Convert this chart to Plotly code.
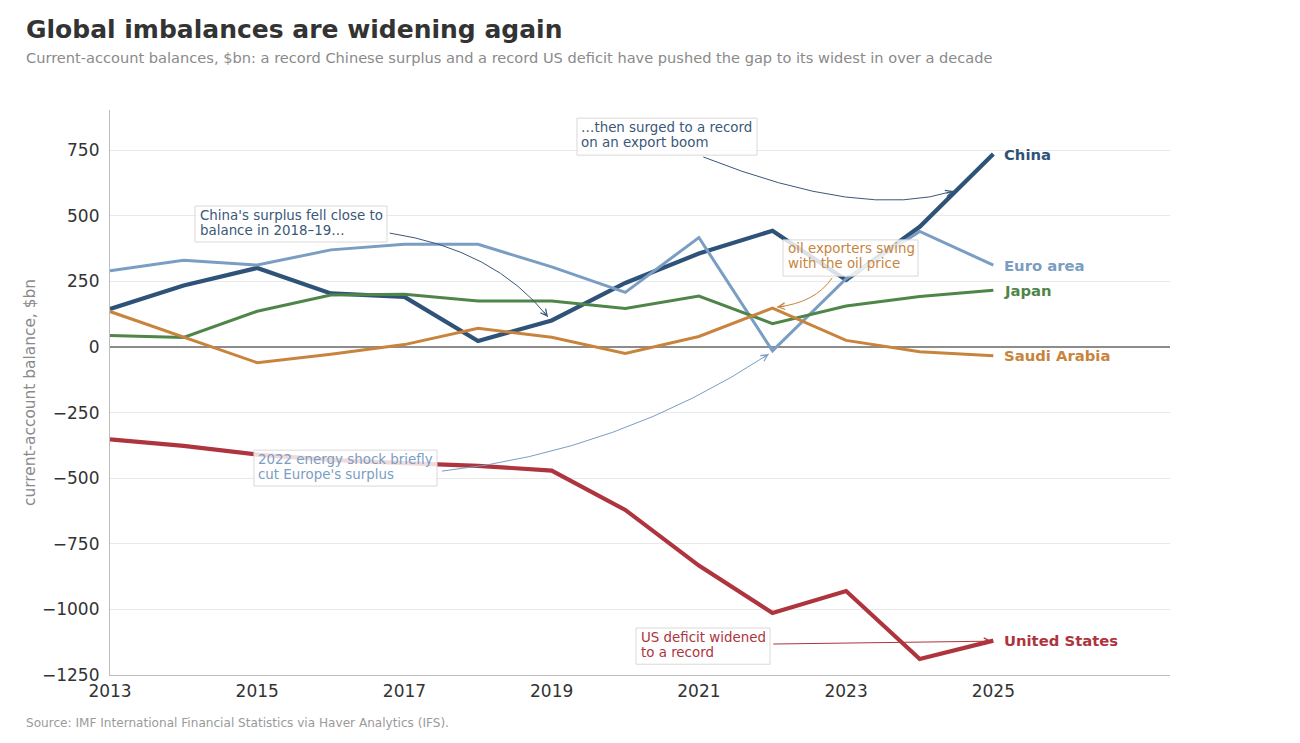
import plotly.graph_objects as go

# ---------------- data ----------------
years = list(range(2013, 2026))
china = [145, 234, 301, 204, 191, 23, 101, 244, 356, 443, 255, 458, 735]
euro_area = [290, 330, 312, 370, 391, 391, 305, 208, 417, -15, 260, 440, 312]
japan = [44, 36, 136, 198, 201, 175, 175, 147, 194, 89, 156, 192, 216]
saudi_arabia = [135, 37, -60, -28, 9, 71, 37, -25, 40, 148, 25, -18, -33]
united_states = [-352, -377, -410, -430, -443, -453, -471, -621, -833, -1014, -930, -1189, -1119]

series_names = ["China", "Euro area", "Japan", "Saudi Arabia", "United States"]
series_values = [china, euro_area, japan, saudi_arabia, united_states]
series_colors = ["#2f5278", "#7a9dc3", "#4f8548", "#c8843c", "#ae343e"]
series_widths = [4.2, 3, 3, 3, 4.2]

x_ticks = [2013, 2015, 2017, 2019, 2021, 2023, 2025]
y_ticks = [-1250, -1000, -750, -500, -250, 0, 250, 500, 750]

title = "Global imbalances are widening again"
subtitle = ("Current-account balances, $bn: a record Chinese surplus and a record US deficit "
            "have pushed the gap to its widest in over a decade")
source = "Source: IMF International Financial Statistics via Haver Analytics (IFS)."
y_title = "current-account balance, $bn"

# callouts: text lines, colour, box (x0, x1, ytop, ybottom), curve start, control, end
callouts = [
    dict(lines=["China's surplus fell close to", "balance in 2018–19…"], color="#3a5878",
         box=(2014.155, 2016.763, 537, 400), p0=(2016.80, 434), c=(2018.22, 373), p1=(2018.95, 114)),
    dict(lines=["…then surged to a record", "on an export boom"], color="#3a5878",
         box=(2019.344, 2021.790, 872, 731), p0=(2021.06, 724), c=(2023.22, 484), p1=(2024.46, 594)),
    dict(lines=["oil exporters swing", "with the oil price"], color="#c8843c",
         box=(2022.143, 2023.977, 408, 270), p0=(2022.81, 263), c=(2022.58, 168), p1=(2022.06, 152)),
    dict(lines=["2022 energy shock briefly", "cut Europe's surplus"], color="#7a9dc3",
         box=(2014.956, 2017.442, -393, -530), p0=(2017.51, -473), c=(2019.93, -400), p1=(2021.95, -27)),
    dict(lines=["US deficit widened", "to a record"], color="#ae343e",
         box=(2020.146, 2021.966, -1071, -1209), p0=(2022.01, -1132), c=None, p1=(2024.98, -1121)),
]

FONT = "DejaVu Sans"

fig = go.Figure()
for name, vals, col, w in zip(series_names, series_values, series_colors, series_widths):
    fig.add_trace(go.Scatter(x=years, y=vals, mode="lines", name=name,
                             line=dict(color=col, width=w), showlegend=False,
                             hoverinfo="skip"))

# end labels
for name, vals, col in zip(series_names, series_values, series_colors):
    fig.add_annotation(x=years[-1], y=vals[-1], text=f"<b>{name}</b>", showarrow=False,
                       xanchor="left", yanchor="middle", xshift=9,
                       font=dict(family=FONT, size=14.8, color=col))

# page offset (browser body margin) compensation
OFF = 8
W, H = 1300, 743
L, T = 110 - OFF, 110 - OFF
R, B = W - (1170 - OFF), H - (675 - OFF)
XR = [2013, 2027.4]
YR = [-1250, 903]
pw, ph = W - L - R, H - T - B

def to_px(x, y):
    return ((x - XR[0]) / (XR[1] - XR[0]) * pw, -(y - YR[0]) / (YR[1] - YR[0]) * ph)

def paper_x(px):
    return (px - OFF - L) / pw

def paper_y(py):
    return (H - B - (py - OFF)) / ph

for c in callouts:
    bx0, bx1, byt, byb = c["box"]
    fig.add_shape(type="rect", xref="x", yref="y", x0=bx0, x1=bx1, y0=byb, y1=byt,
                  fillcolor="rgba(255,255,255,0.82)", line=dict(color="#d9d9d9", width=1),
                  layer="above")
    for i, ln in enumerate(c["lines"]):
        fig.add_annotation(x=bx0, y=byt, xref="x", yref="y", text=ln, showarrow=False,
                           xanchor="left", yanchor="middle", align="left",
                           xshift=2.5, yshift=-(9 + 15 * i),
                           font=dict(family=FONT, size=13.4, color=c["color"]))
    x0, y0 = c["p0"]
    x1, y1 = c["p1"]
    if c["c"] is not None:
        cx, cy = c["c"]
        path = f"M {x0},{y0} Q {cx},{cy} {x1},{y1}"
        tx, ty = cx, cy
    else:
        path = f"M {x0},{y0} L {x1},{y1}"
        tx, ty = x0, y0
    fig.add_shape(type="path", path=path, xref="x", yref="y",
                  line=dict(color=c["color"], width=1))
    ex, ey = to_px(x1, y1)
    sx, sy = to_px(tx, ty)
    dx, dy = sx - ex, sy - ey
    n = (dx * dx + dy * dy) ** 0.5
    fig.add_annotation(x=x1, y=y1, xref="x", yref="y", text="", showarrow=True,
                       ax=dx / n * 9, ay=dy / n * 9, arrowhead=5, arrowsize=1.3,
                       arrowwidth=1, arrowcolor=c["color"])

# subtitle, source, y title
fig.add_annotation(xref="paper", yref="paper", x=paper_x(24), y=paper_y(58),
                   text=subtitle, showarrow=False, xanchor="left", yanchor="middle",
                   font=dict(family=FONT, size=14.6, color="#8a8a8a"))
fig.add_annotation(xref="paper", yref="paper", x=paper_x(24), y=paper_y(723),
                   text=source, showarrow=False, xanchor="left", yanchor="middle",
                   font=dict(family=FONT, size=12.1, color="#9a9a9a"))
fig.add_annotation(xref="paper", yref="paper", x=paper_x(30), y=paper_y(393),
                   text=y_title, showarrow=False, textangle=-90,
                   xanchor="center", yanchor="middle",
                   font=dict(family=FONT, size=15.4, color="#8a8a8a"))

fig.update_layout(
    width=W, height=H,
    margin=dict(l=L, r=R, t=T, b=B),
    paper_bgcolor="white", plot_bgcolor="white",
    font=dict(family=FONT, color="#333333"),
    title=dict(text=f"<b>{title}</b>", x=(26 - OFF) / W, xanchor="left", xref="container",
               y=1 - (29 - OFF) / H, yanchor="middle", yref="container",
               font=dict(family=FONT, size=25, color="#333333")),
    xaxis=dict(range=XR, tickvals=x_ticks, showgrid=False, zeroline=False,
               showline=True, linecolor="#bdbdbd", linewidth=1.2, ticks="",
               tickfont=dict(family=FONT, size=17, color="#333333"), fixedrange=True),
    yaxis=dict(range=YR, tickvals=y_ticks, showgrid=True, gridcolor="#e9e9e9", gridwidth=1,
               zeroline=True, zerolinecolor="#8c8c8c", zerolinewidth=1.5,
               showline=True, linecolor="#bdbdbd", linewidth=1.2, ticks="",
               ticklabelstandoff=6,
               tickfont=dict(family=FONT, size=17, color="#333333"), fixedrange=True),
)

fig.write_html("out.html")
